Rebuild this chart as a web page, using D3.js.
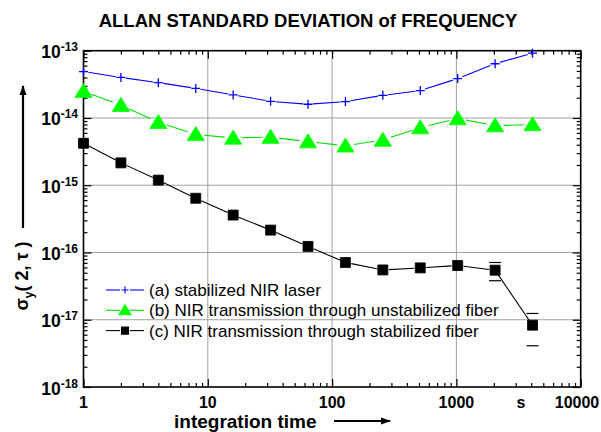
<!DOCTYPE html>
<html>
<head>
<meta charset="utf-8">
<script src="https://cdn.jsdelivr.net/npm/d3@7/dist/d3.min.js"></script>
<style>
  body { margin: 0; background: #fff; }
  svg text { font-family: "Liberation Sans", Arial, sans-serif; }
</style>
</head>
<body>
<svg id="chart" width="601" height="432"></svg>
<script>
// integration time (s)
const tau = [1, 2, 4, 8, 16, 32, 64, 128, 256, 512, 1024, 2048, 4096];

// (a) stabilized NIR laser
const laser = [4.9e-14, 4.0e-14, 3.35e-14, 2.75e-14, 2.2e-14, 1.77e-14, 1.6e-14,
	1.75e-14, 2.17e-14, 2.55e-14, 3.85e-14, 6.4e-14, 9.2e-14];
// (b) through unstabilized fiber
const unstab = [2.5e-14, 1.55e-14, 8.6e-15, 5.7e-15, 5.05e-15, 5.2e-15, 4.45e-15,
	3.85e-15, 4.7e-15, 7.2e-15, 9.8e-15, 7.7e-15, 8.0e-15];
// (c) through stabilized fiber
const stab = [4.2e-15, 2.15e-15, 1.19e-15, 6.4e-16, 3.6e-16, 2.15e-16, 1.23e-16,
	7.1e-17, 5.5e-17, 5.9e-17, 6.4e-17, 5.45e-17, 8.3e-18];
// error bar caps for (c)
const errTau = [2048, 4096];
const errHi = [7.1e-17, 1.24e-17];
const errLo = [3.8e-17, 4.1e-18];

const xTicks = [1, 10, 100, 1000, 10000];
const xTickLabels = ["1", "10", "100", "1000", "10000"];
const yTicks = [1e-18, 1e-17, 1e-16, 1e-15, 1e-14, 1e-13];
const yExp = ["-18", "-17", "-16", "-15", "-14", "-13"];

const legendLabels = [
	"(a) stabilized NIR laser",
	"(b) NIR transmission through unstabilized fiber",
	"(c) NIR transmission through stabilized fiber"
];

const svg = d3.select("#chart");
const pLeft = 83.5, pRight = 580.7, pTop = 50.7, pBottom = 387;

const x = d3.scaleLog().domain([1, 10000]).range([pLeft, pRight]);
const y = d3.scaleLog().domain([1e-18, 1e-13]).range([pBottom, pTop]);

// minor tick values
const xMinor = [], yMinor = [];
for (let e = 0; e < 4; e++) for (let k = 2; k < 10; k++) xMinor.push(k * Math.pow(10, e));
for (let e = -18; e < -13; e++) for (let k = 2; k < 10; k++) yMinor.push(k * Math.pow(10, e));

// grid
const grid = svg.append("g").attr("stroke", "#a0a0a0").attr("stroke-width", 1);
grid.selectAll(".gx").data([10, 100, 1000]).enter().append("line")
	.attr("x1", d => x(d)).attr("x2", d => x(d))
	.attr("y1", pTop).attr("y2", pBottom);
grid.selectAll(".gy").data(yTicks.slice(1, -1)).enter().append("line")
	.attr("x1", pLeft).attr("x2", pRight)
	.attr("y1", d => y(d)).attr("y2", d => y(d));

// axes, ticks pointing inwards on all four sides
function addAxis(axis, tr) {
	const g = svg.append("g").attr("transform", tr);
	g.call(axis);
	g.select(".domain").remove();
	g.selectAll("line").attr("stroke", "#000").attr("stroke-width", 1.2);
	return g;
}
[[d3.axisBottom, `translate(0,${pBottom})`], [d3.axisTop, `translate(0,${pTop})`]].forEach(([f, tr]) => {
	addAxis(f(x).tickValues(xMinor).tickSize(-4).tickFormat(""), tr);
	addAxis(f(x).tickValues(xTicks).tickSize(-8).tickFormat(""), tr);
});
[[d3.axisLeft, `translate(${pLeft},0)`], [d3.axisRight, `translate(${pRight},0)`]].forEach(([f, tr]) => {
	addAxis(f(y).tickValues(yMinor).tickSize(-4).tickFormat(""), tr);
	addAxis(f(y).tickValues(yTicks).tickSize(-8).tickFormat(""), tr);
});

svg.append("rect")
	.attr("x", pLeft).attr("y", pTop)
	.attr("width", pRight - pLeft).attr("height", pBottom - pTop)
	.attr("fill", "none").attr("stroke", "#000").attr("stroke-width", 1.6);

// tick labels
svg.selectAll(".xl").data(xTicks).enter().append("text")
	.attr("x", d => Math.min(x(d), 577)).attr("y", 408)
	.attr("text-anchor", "middle")
	.style("font-size", "16px").style("font-weight", "bold")
	.text((d, i) => xTickLabels[i]);
svg.append("text")
	.attr("x", x(3300)).attr("y", 408)
	.attr("text-anchor", "middle")
	.style("font-size", "16px").style("font-weight", "bold")
	.text("s");

const yl = svg.selectAll(".yl").data(yTicks).enter().append("text")
	.attr("x", 78).attr("y", d => y(d) + 7.5)
	.attr("text-anchor", "end")
	.style("font-size", "17.5px").style("font-weight", "bold");
yl.append("tspan").text("10");
yl.append("tspan").attr("dy", -7).style("font-size", "12px").text((d, i) => yExp[i]);

// titles
svg.append("text")
	.attr("x", 308).attr("y", 27)
	.attr("text-anchor", "middle")
	.style("font-size", "18.5px").style("font-weight", "bold")
	.text("ALLAN STANDARD DEVIATION of FREQUENCY");

svg.append("text")
	.attr("x", 174).attr("y", 427.5)
	.style("font-size", "19px").style("font-weight", "bold")
	.text("integration time");

const yt = svg.append("text")
	.attr("transform", "translate(28,276) rotate(-90)")
	.attr("text-anchor", "middle")
	.style("font-size", "18px").style("font-weight", "bold");
yt.append("tspan").text("σ");
yt.append("tspan").attr("dy", 5).style("font-size", "12px").text("y");
yt.append("tspan").attr("dy", -5).text("( 2, τ )");

// arrows
svg.append("defs").append("marker")
	.attr("id", "head").attr("viewBox", "0 0 10 10")
	.attr("refX", 9).attr("refY", 5)
	.attr("markerWidth", 10).attr("markerHeight", 10)
	.attr("markerUnits", "userSpaceOnUse")
	.attr("orient", "auto")
	.append("path").attr("d", "M0,1.5L10,5L0,8.5Z").attr("fill", "#000");
svg.append("line")
	.attr("x1", 334).attr("x2", 390).attr("y1", 421).attr("y2", 421)
	.attr("stroke", "#000").attr("stroke-width", 2.2)
	.attr("marker-end", "url(#head)");
svg.append("line")
	.attr("x1", 23).attr("x2", 23).attr("y1", 228).attr("y2", 86)
	.attr("stroke", "#000").attr("stroke-width", 2.2)
	.attr("marker-end", "url(#head)");

// markers
function markerPath(type, s) {
	if (type === "cross") return `M${-s},0H${s}M0,${-s}V${s}`;
	if (type === "tri") return `M0,${-s}L${s * 1.1},${s * 0.8}L${-s * 1.1},${s * 0.8}Z`;
	return `M${-s},${-s}H${s}V${s}H${-s}Z`;
}

const series = [
	{ vals: laser, color: "#0000ff", line: "#0000ff", type: "cross", size: 4.5, gap: 5 },
	{ vals: unstab, color: "#00ff00", line: "#00e000", type: "tri", size: 7.8, gap: 8.5 },
	{ vals: stab, color: "#000000", line: "#000000", type: "square", size: 5, gap: 6 }
];

const plot = svg.append("g");
series.forEach(s => {
	const pts = tau.map((t, i) => [x(t), y(s.vals[i])]);
	// connecting segments stop short of the markers
	const segs = d3.pairs(pts).map(([a, b]) => {
		const dx = b[0] - a[0], dy = b[1] - a[1], len = Math.hypot(dx, dy);
		const ux = dx / len, uy = dy / len;
		return [a[0] + ux * s.gap, a[1] + uy * s.gap, b[0] - ux * s.gap, b[1] - uy * s.gap];
	});
	plot.append("g").selectAll("line").data(segs).enter().append("line")
		.attr("x1", d => d[0]).attr("y1", d => d[1])
		.attr("x2", d => d[2]).attr("y2", d => d[3])
		.attr("stroke", s.line).attr("stroke-width", 1.1);
	plot.append("g").selectAll("path").data(pts).enter().append("path")
		.attr("transform", d => `translate(${d[0]},${d[1]})`)
		.attr("d", markerPath(s.type, s.size))
		.attr("fill", s.type === "cross" ? "none" : s.color)
		.attr("stroke", s.color)
		.attr("stroke-width", s.type === "cross" ? 1.3 : 0.8);
});

// error bar caps on (c)
const caps = plot.append("g").attr("stroke", "#000").attr("stroke-width", 1.2);
errTau.forEach((t, i) => {
	[errHi[i], errLo[i]].forEach(v => {
		caps.append("line")
			.attr("x1", x(t) - 6).attr("x2", x(t) + 6)
			.attr("y1", y(v)).attr("y2", y(v));
	});
});

// legend
const leg = svg.append("g");
series.forEach((s, i) => {
	const cy = 290 + i * 20.3;
	const g = leg.append("g").attr("transform", `translate(0,${cy})`);
	g.append("line").attr("x1", 106).attr("x2", 120).attr("stroke", s.line).attr("stroke-width", 1.1);
	g.append("line").attr("x1", 130).attr("x2", 144).attr("stroke", s.line).attr("stroke-width", 1.1);
	g.append("path").attr("transform", "translate(125,0)")
		.attr("d", markerPath(s.type, s.type === "tri" ? 5.5 : 3.5))
		.attr("fill", s.type === "cross" ? "none" : s.color)
		.attr("stroke", s.color).attr("stroke-width", 1.1);
	g.append("text").attr("x", 149).attr("y", 6)
		.style("font-size", "17px")
		.text(legendLabels[i]);
});
</script>
</body>
</html>
